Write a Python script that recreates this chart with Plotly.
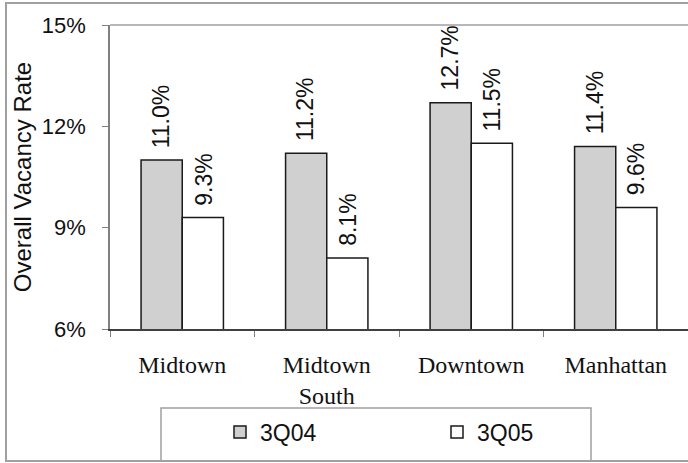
import plotly.graph_objects as go

# Office vacancy rates by Manhattan submarket
categories = ["Midtown", "Midtown<br>South", "Downtown", "Manhattan"]
series_names = ["3Q04", "3Q05"]
vacancy_3q04 = [11.0, 11.2, 12.7, 11.4]
vacancy_3q05 = [9.3, 8.1, 11.5, 9.6]
y_ticks = [6, 9, 12, 15]

W, H = 688, 463
ML, MR, MT, MB = 110, 0, 25, 134
PW, PH = W - ML - MR, H - MT - MB

SANS = "Liberation Sans, Arial, sans-serif"
SERIF = "Liberation Serif, Times New Roman, serif"


def px_x(px):
    return (px - ML) / PW


def px_y(py):
    return (H - MB - py) / PH


fills = ["#d0d0d0", "#ffffff"]
series = [vacancy_3q04, vacancy_3q05]
legends = ["legend", "legend2"]

fig = go.Figure()
for name, vals, fill, lg in zip(series_names, series, fills, legends):
    fig.add_trace(go.Bar(
        name=name, x=categories, y=vals,
        marker=dict(color=fill, line=dict(color="#1a1a1a", width=1.5)),
        legend=lg,
    ))

# rotated value labels above each bar
for i, vals in enumerate(series):
    shift = -21 if i == 0 else 21
    for cat, v in zip(categories, vals):
        fig.add_annotation(
            x=cat, y=v, xref="x", yref="y", text=f"{v:.1f}%",
            textangle=-90, showarrow=False, xanchor="center", yanchor="bottom",
            xshift=shift, yshift=10, font=dict(family=SANS, size=23, color="#111"),
        )

shapes = [
    # outer frame (right edge runs off the page)
    dict(type="rect", xref="paper", yref="paper", x0=px_x(6), x1=px_x(692),
         y0=px_y(461), y1=px_y(3), line=dict(color="#a0a0a0", width=2)),
    # plot area top edge
    dict(type="line", xref="paper", yref="paper", x0=0, x1=1, y0=1, y1=1,
         line=dict(color="#a0a0a0", width=1.5)),
    # legend box
    dict(type="rect", xref="paper", yref="paper", x0=px_x(161), x1=px_x(591),
         y0=px_y(461), y1=px_y(408), line=dict(color="#a0a0a0", width=1.5)),
]

legend_common = dict(
    orientation="h", yanchor="middle", y=px_y(432), xanchor="left",
    bgcolor="rgba(0,0,0,0)", borderwidth=0,
    font=dict(family=SANS, size=23, color="#111"),
)

fig.update_layout(
    width=W, height=H,
    margin=dict(l=ML, r=MR, t=MT, b=MB, autoexpand=False),
    paper_bgcolor="white", plot_bgcolor="white",
    barmode="group", bargap=0.43, bargroupgap=0,
    showlegend=True,
    legend=dict(x=px_x(220), **legend_common),
    legend2=dict(x=px_x(437), **legend_common),
    shapes=shapes,
    xaxis=dict(
        showline=True, linecolor="#404040", linewidth=1.5,
        ticks="outside", tickson="boundaries", ticklen=6, tickcolor="#808080",
        ticklabelstandoff=13,
        tickfont=dict(family=SERIF, size=24, color="#111"),
        showgrid=False, zeroline=False,
    ),
    yaxis=dict(
        range=[6, 15], tickvals=y_ticks, ticktext=[f"{t}%" for t in y_ticks],
        showline=True, linecolor="#808080", linewidth=1.5,
        ticks="outside", ticklen=6, tickcolor="#808080",
        ticklabelstandoff=12,
        tickfont=dict(family=SANS, size=22, color="#111"),
        showgrid=False, zeroline=False,
        title=dict(text="Overall Vacancy Rate", standoff=3,
                   font=dict(family=SANS, size=24, color="#111")),
    ),
)

fig.write_html("out.html")
